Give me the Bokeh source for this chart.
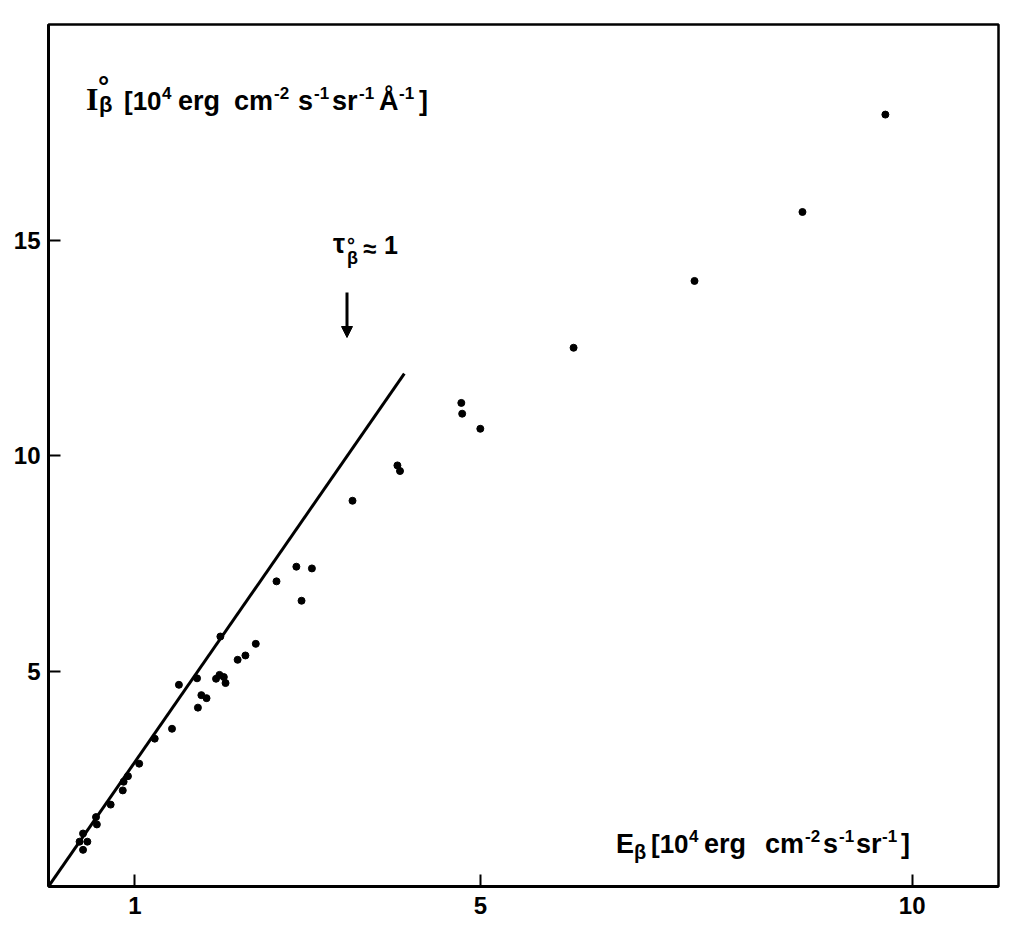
from bokeh.plotting import figure
from bokeh.models import Range1d, FixedTicker, Label, Arrow, NormalHead
from bokeh.embed import file_html
from bokeh.resources import INLINE

# ---- data ----
E_beta = [0.40, 0.36, 0.45, 0.40, 0.55, 0.56, 0.72, 0.86, 0.87, 0.92,
          1.05, 1.23, 1.43, 1.51, 1.72, 1.73, 1.77, 1.83, 1.94, 1.98,
          2.03, 2.05, 1.99, 2.19, 2.28, 2.40, 2.64, 2.87, 3.05, 2.93,
          3.52, 4.04, 4.07, 4.78, 4.79, 5.00, 6.08, 7.48, 8.73, 9.69]
I_beta = [0.85, 1.04, 1.04, 1.23, 1.61, 1.44, 1.90, 2.23, 2.43, 2.56,
          2.85, 3.43, 3.66, 4.68, 4.83, 4.15, 4.44, 4.37, 4.82, 4.91,
          4.86, 4.72, 5.80, 5.26, 5.36, 5.63, 7.08, 7.42, 7.38, 6.63,
          8.95, 9.77, 9.64, 11.22, 10.97, 10.62, 12.50, 14.05, 15.65, 17.91]
fit_E = [0.0, 4.12]
fit_I = [0.0, 11.9]
x_ticks = [1, 5, 10]
y_ticks = [5, 10, 15]
x_max, y_max = 11, 20

FONT = "Liberation Sans"
SERIF = "Liberation Serif"

FL, FT, FW, FH = 48.5, 24.0, 950, 862


def dx(px):
    return (px - FL) / FW * x_max


def dy(py):
    return (FT + FH - py) / FH * y_max


p = figure(frame_width=FW, frame_height=FH, min_border_left=48, min_border_top=24,
           min_border_bottom=38, min_border_right=10,
           x_range=Range1d(0, x_max), y_range=Range1d(0, y_max),
           output_backend="svg", toolbar_location=None)
p.background_fill_color = "white"
p.border_fill_color = "white"
p.outline_line_color = "black"
p.outline_line_width = 2.5
p.grid.visible = False

for ax, ticks in ((p.xaxis, x_ticks), (p.yaxis, y_ticks)):
    ax.ticker = FixedTicker(ticks=ticks)
    ax.major_tick_in = 12
    ax.major_tick_out = 0
    ax.minor_tick_in = 0
    ax.minor_tick_out = 0
    ax.major_tick_line_width = 2
    ax.axis_line_width = 3
    ax.major_label_text_font = FONT
    ax.major_label_text_font_size = "24px"
    ax.major_label_text_font_style = "bold"
    ax.major_label_text_color = "black"
p.xaxis.major_label_standoff = 10
p.yaxis.major_label_standoff = 8

p.line(fit_E, fit_I, line_width=3, line_color="black")
p.scatter(E_beta, I_beta, size=7, fill_color="black", line_color="black")

p.add_layout(Arrow(end=NormalHead(size=11, fill_color="black", line_color="black"),
                   x_start=dx(347), y_start=dy(292), x_end=dx(347), y_end=dy(337),
                   line_width=3, line_color="black"))


def lab(text, px, base, size, font=FONT, style="bold"):
    # the svg renderer centres the text on y, so lift by ~0.35 em to sit on the baseline
    p.add_layout(Label(x=dx(px), y=dy(base - 0.35 * size), text=text, text_font=font,
                       text_font_size=f"{size}px", text_font_style=style,
                       text_color="black", text_baseline="alphabetic",
                       text_align="left"))


# y-axis label (inside frame, top-left)
B1, M, S = 110, 27, 17
lab("I", 86, B1, 32, font=SERIF)
lab("°", 98, 96, 28)
lab("β", 99, 112, 22)
lab("[10", 124, B1, 26)
lab("4", 162, B1 - 12, S)
lab("erg", 178, B1, M)
lab("cm", 234, B1, M)
lab("-2", 274, B1 - 12, S)
lab("s", 298, B1, M)
lab("-1", 314, B1 - 12, S)
lab("sr", 332, B1, M)
lab("-1", 359, B1 - 12, S)
lab("Å", 379, B1, M)
lab("-1", 399, B1 - 12, S)
lab("]", 419, B1, M)

# x-axis label (inside frame, bottom-right)
B2 = 853
lab("E", 616, B2, M)
lab("β", 634, B2 + 5, 20)
lab("[10", 651, B2, 26)
lab("4", 689, B2 - 12, S)
lab("erg", 704, B2, M)
lab("cm", 765, B2, M)
lab("-2", 805, B2 - 12, S)
lab("s", 823, B2, M)
lab("-1", 839, B2 - 12, S)
lab("sr", 856, B2, M)
lab("-1", 882, B2 - 12, S)
lab("]", 901, B2, M)

# tau annotation
lab("τ", 333, 253, 27)
lab("°", 347, 251, 20)
lab("β", 347, 264, 18)
lab("≈", 363, 256, 24)
lab("1", 384, 253, 25)

open("out.html", "w").write(file_html(p, INLINE))
